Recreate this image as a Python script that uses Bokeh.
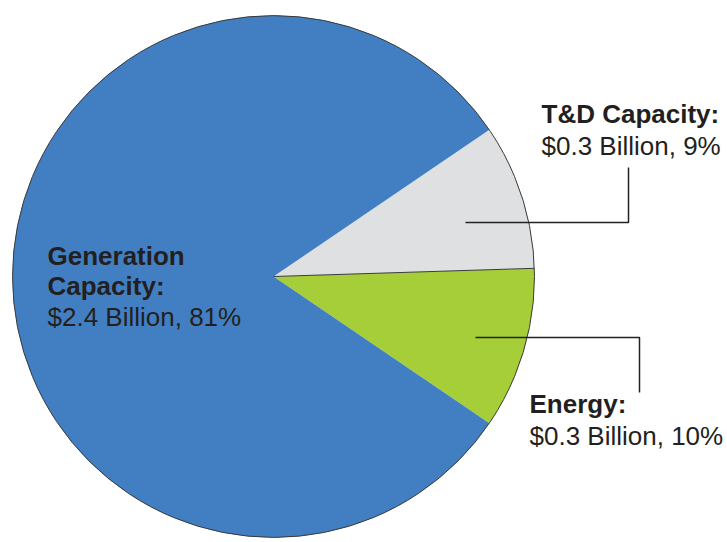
import math
from bokeh.plotting import figure
from bokeh.models import Range1d
from bokeh.core.properties import value
from bokeh.embed import file_html
from bokeh.resources import INLINE

# ---- data ----
categories = ["Energy", "T&D Capacity", "Generation Capacity"]
billions = [0.3, 0.3, 2.4]
percents = [10, 9, 81]
colors = ["#a6ce39", "#dfe0e2", "#427fc2"]

# ---- layout (screen pixel coordinates, y measured from the top) ----
W, H = 727, 542
cx, cy, r = 273, 276, 261
start_deg = -34.2

def Y(sy):
    return H - sy

p = figure(width=W, height=H, output_backend="svg",
           toolbar_location=None, min_border=0,
           x_range=Range1d(0, W), y_range=Range1d(0, H))
p.axis.visible = False
p.grid.visible = False
p.outline_line_color = None
p.background_fill_color = "white"
p.border_fill_color = "white"

total = sum(percents)
starts, ends = [], []
acc = math.radians(start_deg)
for v in percents:
    starts.append(acc)
    acc += 2 * math.pi * v / total
    ends.append(acc)

p.wedge(x=[cx] * 3, y=[Y(cy)] * 3, radius=r, start_angle=starts, end_angle=ends,
        fill_color=colors, line_color=None)
# thin dark outline round the pie
p.circle(x=[cx], y=[Y(cy)], radius=r, fill_color=None, line_color="#3a3a3a", line_width=1)
# dark edge between green and gray slices
a = ends[0]
p.segment(x0=[cx], y0=[Y(cy)], x1=[cx + r * math.cos(a)], y1=[Y(cy) + r * math.sin(a)],
          line_color="#3a3a3a", line_width=1)

font = value("Liberation Sans")
fs = "26px"
tc = "#231f20"

# Generation Capacity label (inside)
gx = 47
p.text(x=[gx, gx], y=[Y(255), Y(285)], text=["Generation", "Capacity:"],
       text_font=font, text_font_size=fs, text_font_style="bold",
       text_color=tc, text_baseline="alphabetic")
p.text(x=[gx], y=[Y(316)],
       text=[f"${billions[2]} Billion, {percents[2]}%"],
       text_font=font, text_font_size=fs, text_color=tc, text_baseline="alphabetic")

# T&D Capacity label
tx = 541
p.text(x=[tx], y=[Y(113)], text=[f"{categories[1]}:"],
       text_font=font, text_font_size=fs, text_font_style="bold",
       text_color=tc, text_baseline="alphabetic")
p.text(x=[tx], y=[Y(145)], text=[f"${billions[1]} Billion, {percents[1]}%"],
       text_font=font, text_font_size=fs, text_color=tc, text_baseline="alphabetic")

# Energy label
ex = 529
p.text(x=[ex], y=[Y(403)], text=[f"{categories[0]}:"],
       text_font=font, text_font_size=fs, text_font_style="bold",
       text_color=tc, text_baseline="alphabetic")
p.text(x=[ex], y=[Y(435)], text=[f"${billions[0]} Billion, {percents[0]}%"],
       text_font=font, text_font_size=fs, text_color=tc, text_baseline="alphabetic")

# leader lines
p.line(x=[628, 628, 465], y=[Y(167), Y(222), Y(222)], line_color="#222222", line_width=1.5)
p.line(x=[475, 639, 639], y=[Y(337), Y(337), Y(392)], line_color="#222222", line_width=1.5)

open("out.html", "w").write(file_html(p, INLINE))
